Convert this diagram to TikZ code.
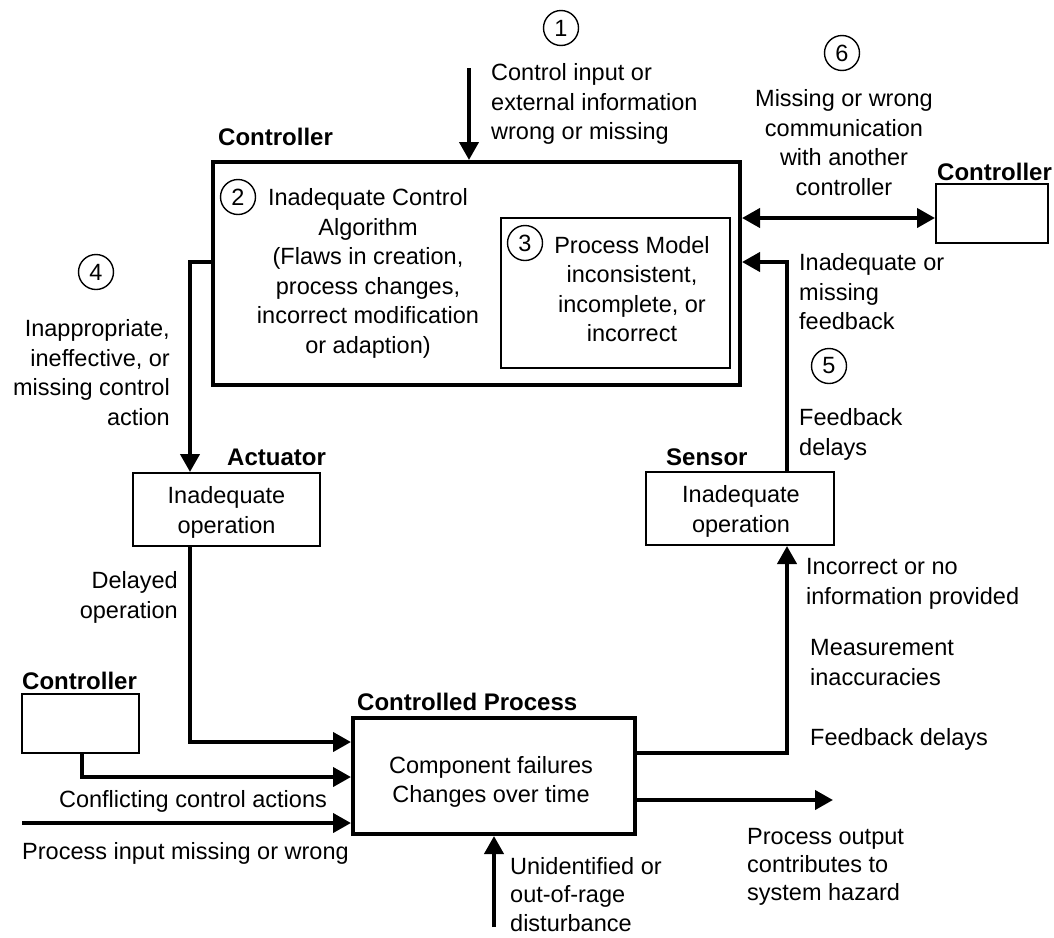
\documentclass[tikz,border=0pt]{standalone}
\usepackage{fontspec}
\setmainfont{Liberation Sans}
\usetikzlibrary{arrows.meta}

\tikzset{
  txt/.style={inner sep=0pt, font=\fontsize{23.5pt}{29.5pt}\selectfont},
  title/.style={inner sep=0pt, anchor=base west, font=\fontsize{24pt}{29pt}\selectfont\bfseries},
  bigbox/.style={draw, line width=4pt, inner sep=0pt},
  smallbox/.style={draw, line width=2pt, inner sep=0pt, align=center,
    font=\fontsize{23.5pt}{29.5pt}\selectfont},
  num/.style={draw, circle, line width=1.4pt, minimum size=35pt, inner sep=0pt,
    font=\fontsize{23.5pt}{28pt}\selectfont},
  arr/.style={line width=4pt, -{Triangle[length=18pt,width=19pt]}},
  darr/.style={line width=4pt, {Triangle[length=18pt,width=19pt]}-{Triangle[length=18pt,width=19pt]}},
}

\begin{document}
\begin{tikzpicture}[x=1pt, y=-1pt]
  \fill[white] (0,0) rectangle (1054,937);
  \useasboundingbox (0,0) rectangle (1054,937);

  % boxes
  \node[bigbox, minimum width=527pt, minimum height=223pt] (ctrl) at (476.5,273.5) {};
  \node[smallbox, minimum width=229pt, minimum height=150pt] (pm) at (615.5,293) {};
  \node[smallbox, minimum width=187pt, minimum height=73pt] (act) at (226.5,509.5) {};
  \node[smallbox, minimum width=188pt, minimum height=73pt] (sen) at (740,508.5) {};
  \node[bigbox, minimum width=282pt, minimum height=116pt] (proc) at (494,776) {};
  \node[smallbox, minimum width=117pt, minimum height=59pt] (ctrlL) at (80.5,723.5) {};
  \node[smallbox, minimum width=112pt, minimum height=59pt] (ctrlR) at (992,213.5) {};

  % box contents
  \node[txt, anchor=north, align=center] (actTxt) at (226.5,486.6) {Inadequate\\operation};
  \node[txt, anchor=north, align=center] (senTxt) at (741,485.6) {Inadequate\\operation};
  \node[txt, anchor=north, align=center, font=\fontsize{23.5pt}{28.5pt}\selectfont] (procTxt) at (491,756.6)
    {Component failures\\Changes over time};

  % titles
  \node[title] (tCtrl) at (218,145.4) {Controller};
  \node[title] (tAct) at (227,465.4) {Actuator};
  \node[title] (tSen) at (666,465.4) {Sensor};
  \node[title] (tProc) at (357,710.4) {Controlled Process};
  \node[title] (tCtrlL) at (22,689.4) {Controller};
  \node[title] (tCtrlR) at (937,180.4) {Controller};

  % numbered markers
  \node[num] (n1) at (561,28) {1};
  \node[num] (n2) at (238,197) {2};
  \node[num] (n3) at (525,243) {3};
  \node[num] (n4) at (96,272) {4};
  \node[num] (n5) at (829,366) {5};
  \node[num] (n6) at (842,53) {6};

  % descriptions
  \node[txt, anchor=north west, align=left] (d1) at (491,63.6)
    {Control input or\\external information\\wrong or missing};
  \node[txt, anchor=north, align=center] (d2) at (368,188.6)
    {Inadequate Control\\Algorithm\\(Flaws in creation,\\process changes,\\incorrect modification\\or adaption)};
  \node[txt, anchor=north, align=center] (d3) at (632,236)
    {Process Model\\inconsistent,\\incomplete, or\\incorrect};
  \node[txt, anchor=north east, align=right] (d4) at (170,319.6)
    {Inappropriate,\\ineffective, or\\missing control\\action};
  \node[txt, anchor=north east, align=right] (dDel) at (178,571.6)
    {Delayed\\operation};
  \node[txt, anchor=north] (dConf) at (193,790.6) {Conflicting control actions};
  \node[txt, anchor=north west] (dIn) at (22,842.6) {Process input missing or wrong};
  \node[txt, anchor=north west, align=left, font=\fontsize{23.5pt}{28.5pt}\selectfont] (dDist) at (510,857)
    {Unidentified or\\out-of-rage\\disturbance};
  \node[txt, anchor=north west, align=left] (dInc) at (806,558.6)
    {Incorrect or no\\information provided};
  \node[txt, anchor=north west, align=left] (dMeas) at (810,639.6)
    {Measurement\\inaccuracies};
  \node[txt, anchor=north west] (dFbd) at (810,728.6) {Feedback delays};
  \node[txt, anchor=north west, align=left, font=\fontsize{23.5pt}{28pt}\selectfont] (dOut) at (747,828.6)
    {Process output\\contributes to\\system hazard};
  \node[txt, anchor=north west, align=left] (dFb) at (799,253.6)
    {Inadequate or\\missing\\feedback};
  \node[txt, anchor=north west, align=left] (dFb5) at (799,408.6)
    {Feedback\\delays};
  \node[txt, anchor=north, align=center] (d6) at (844,89.6)
    {Missing or wrong\\communication\\with another\\controller};

  % free ends
  \coordinate (in1) at (469,68);
  \coordinate (pin) at (22,823);
  \coordinate (dist) at (494,927);
  \coordinate (pout) at (833,800);

  % connectors
  \draw[arr] (in1) -- (in1 |- ctrl.north);
  \draw[arr] ([yshift=11.5pt]ctrl.west) -| ([xshift=-36.5pt]act.north);
  \draw[arr] ([xshift=-36.5pt]act.south) |- ([yshift=34pt]proc.west);
  \draw[arr] ([xshift=1.5pt]ctrlL.south) |- ([yshift=-1pt]proc.west);
  \draw[arr] (pin) -- (pin -| proc.west);
  \draw[arr] (dist) -- (proc.south);
  \draw[arr] ([yshift=23pt]proc.east) -| ([xshift=47pt]sen.south);
  \draw[arr] ([yshift=-24pt]proc.east) -- (pout);
  \draw[arr] ([xshift=47pt]sen.north) |- ([yshift=11.5pt]ctrl.east);
  \draw[darr] ([yshift=55.5pt]ctrl.east) -- ([yshift=55.5pt]ctrl.east -| ctrlR.west);
\end{tikzpicture}
\end{document}
